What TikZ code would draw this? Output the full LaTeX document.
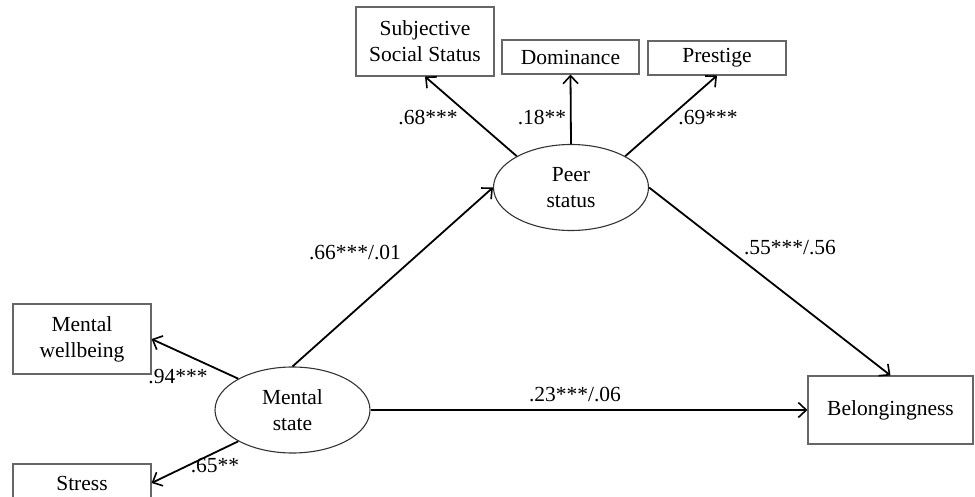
\documentclass[tikz,border=0pt]{standalone}
\usepackage{fontspec}
\setmainfont{Liberation Serif}
\usetikzlibrary{arrows.meta,shapes.geometric}
\begin{document}
\begin{tikzpicture}[x=1pt,y=-1pt,
  every node/.style={font=\fontsize{21.5}{26}\selectfont, text=black},
  obsbox/.style={draw=black!60, line width=1.1pt, rectangle, inner sep=0pt, align=center},
  latent/.style={draw=black!80, line width=1.1pt, ellipse, inner sep=0pt, align=center, minimum width=155pt, minimum height=86pt},
  path/.style={draw=black, line width=1.8pt, -{Straight Barb[length=8pt,width=15pt,line width=1.6pt]}},
  coef/.style={inner sep=0pt}
]
\useasboundingbox (0,0) rectangle (975,497);
\begin{scope}
\clip (0,0) rectangle (975,497);
% observed indicators
\node[obsbox, minimum width=138pt, minimum height=69pt] (sss) at (425,41.5) {Subjective\\Social Status};
\node[obsbox, minimum width=137pt, minimum height=34pt] (dom) at (570.5,57) {Dominance};
\node[obsbox, minimum width=138pt, minimum height=34pt] (pre) at (717,58) {Prestige};
\node[obsbox, minimum width=138pt, minimum height=70pt] (mw) at (82,339) {Mental\\wellbeing};
\node[obsbox, minimum width=138pt, minimum height=38pt] (str) at (82,483) {Stress};
\node[obsbox, minimum width=165pt, minimum height=68pt] (bel) at (890.5,410) {Belongingness};
% latent variables
\node[latent] (ps) at (571,187.5) {Peer\\status};
\node[latent] (ms) at (292.5,410) {Mental\\state};
% paths
\draw[path] (ps.150) -- (sss.south);
\draw[path] (ps.north) -- (dom.south);
\draw[path] (ps.30) -- (pre.south);
\draw[path] (ms.150) -- (mw.east);
\draw[path] (ms.210) -- (str.east);
\draw[path] (ms.north) -- (ps.west);
\draw[path] (ps.east) -- (bel.north);
\draw[path] (ms.east) -- (bel.west);
% coefficients
\node[coef] (c1) at (428,118) {.68***};
\node[coef] (c2) at (542,118) {.18**};
\node[coef] (c3) at (708,118) {.69***};
\node[coef] (c4) at (355,253) {.66***/.01};
\node[coef] (c5) at (790,248) {.55***/.56};
\node[coef] (c6) at (575,395) {.23***/.06};
\node[coef] (c7) at (178,377) {.94***};
\node[coef] (c8) at (215,466) {.65**};
\end{scope}
\end{tikzpicture}
\end{document}
